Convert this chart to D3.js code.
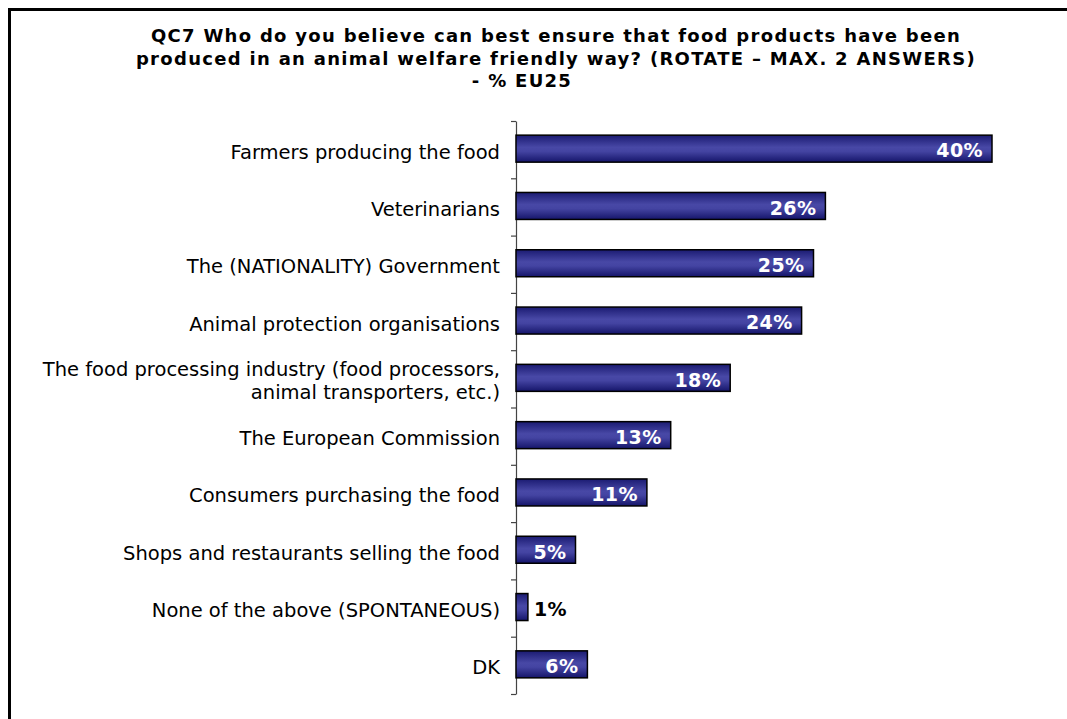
<!DOCTYPE html>
<html>
<head>
<meta charset="utf-8">
<script src="https://cdn.jsdelivr.net/npm/d3@7"></script>
<style>
  html, body { margin: 0; padding: 0; background: #fff; }
  svg { display: block; }
</style>
</head>
<body>
<svg id="chart" width="1067" height="719"></svg>
<script>
// Survey answers, EU25 share (%)
const categories = [
  "Farmers producing the food",
  "Veterinarians",
  "The (NATIONALITY) Government",
  "Animal protection organisations",
  "The food processing industry (food processors,|animal transporters, etc.)",
  "The European Commission",
  "Consumers purchasing the food",
  "Shops and restaurants selling the food",
  "None of the above (SPONTANEOUS)",
  "DK"
];
const values = [40, 26, 25, 24, 18, 13, 11, 5, 1, 6];
const titleLines = [
  "QC7 Who do you believe can best ensure that food products have been",
  "produced in an animal welfare friendly way? (ROTATE \u2013 MAX. 2 ANSWERS)",
  "- % EU25"
];

const svg = d3.select("#chart");
const FONT = "'DejaVu Sans', Verdana, sans-serif";

// outer frame
svg.append("rect")
  .attr("x", 9.5).attr("y", 9.5)
  .attr("width", 1100).attr("height", 800)
  .attr("fill", "none").attr("stroke", "#000").attr("stroke-width", 3);

// title
const titleX = [556, 556, 522];
const titleY = [42, 64.5, 87];
svg.append("g").selectAll("text").data(titleLines).join("text")
  .attr("x", (d, i) => titleX[i]).attr("y", (d, i) => titleY[i])
  .attr("text-anchor", "middle")
  .attr("font-family", FONT).attr("font-weight", "bold").attr("font-size", 18)
  .attr("letter-spacing", 1.3)
  .attr("fill", "#000")
  .text(d => d);

// scales
const x0 = 516;
const x = d3.scaleLinear().domain([0, 40]).range([x0, 992]);
const y = d3.scaleBand().domain(categories).range([121, 694]).paddingInner(0).paddingOuter(0);
const barH = 27;

// bar gradient (tube look)
const defs = svg.append("defs");
const grad = defs.append("linearGradient").attr("id", "barGrad")
  .attr("x1", 0).attr("y1", 0).attr("x2", 0).attr("y2", 1);
[[0, "#1b1b72"], [0.45, "#4848a6"], [0.6, "#4444a2"], [1, "#15156a"]].forEach(([o, c]) =>
  grad.append("stop").attr("offset", o).attr("stop-color", c));

// axis with ticks between categories
const yIdx = d3.scaleLinear().domain([0, categories.length]).range([121, 694]);
const axis = svg.append("g").attr("transform", `translate(${x0},0)`)
  .call(d3.axisLeft(yIdx).tickValues(d3.range(categories.length + 1)).tickSize(5).tickSizeOuter(0).tickFormat(""));
axis.selectAll("path, line").attr("stroke", "#444").attr("stroke-width", 1.2);

// bars
const barTop = d => y(d) + y.bandwidth() / 2 - barH / 2 - 1;
svg.append("g").selectAll("rect").data(categories).join("rect")
  .attr("x", x0)
  .attr("y", d => barTop(d))
  .attr("width", (d, i) => x(values[i]) - x0)
  .attr("height", barH)
  .attr("fill", "url(#barGrad)")
  .attr("stroke", "#000").attr("stroke-width", 1.5);

// category labels
const catG = svg.append("g");
categories.forEach((c, i) => {
  const lines = c.split("|");
  const cy = y(c) + y.bandwidth() / 2 + 2;
  const lh = 23;
  lines.forEach((ln, j) => {
    catG.append("text")
      .attr("x", 500)
      .attr("y", cy + (j - (lines.length - 1) / 2) * lh)
      .attr("dy", "0.36em")
      .attr("text-anchor", "end")
      .attr("font-family", FONT).attr("font-size", 19.5)
      .attr("fill", "#000")
      .text(ln);
  });
});

// value labels
svg.append("g").selectAll("text").data(categories).join("text")
  .attr("x", (d, i) => values[i] >= 3 ? x(values[i]) - 9 : x(values[i]) + 6)
  .attr("y", d => y(d) + y.bandwidth() / 2 + 1)
  .attr("dy", "0.36em")
  .attr("text-anchor", (d, i) => values[i] >= 3 ? "end" : "start")
  .attr("font-family", FONT).attr("font-weight", "bold").attr("font-size", 19)
  .attr("letter-spacing", 0.4)
  .attr("fill", (d, i) => values[i] >= 3 ? "#fff" : "#000")
  .text((d, i) => values[i] + "%");
</script>
</body>
</html>
